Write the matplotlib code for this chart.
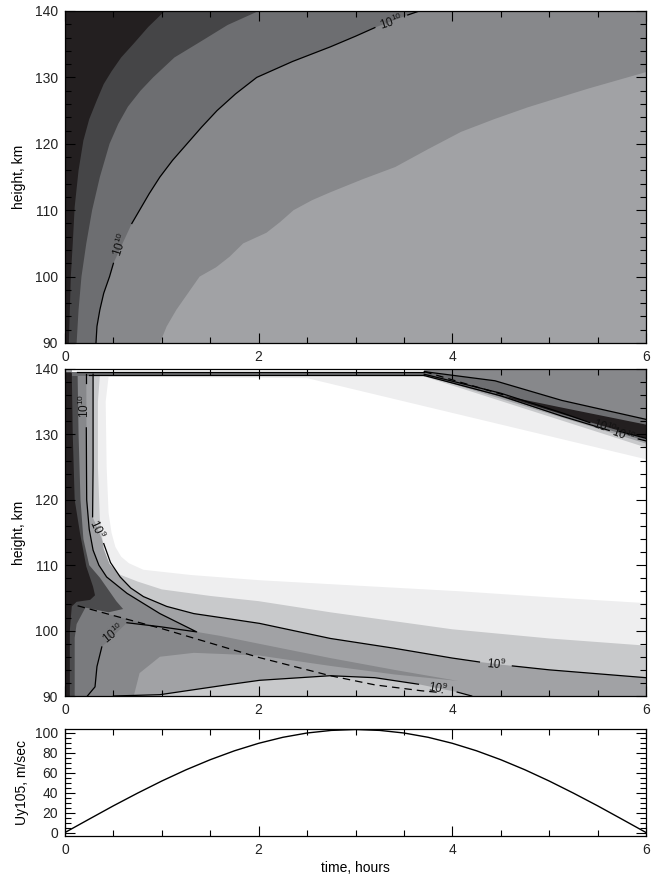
import numpy as np
import matplotlib.pyplot as plt
from matplotlib.ticker import MultipleLocator

plt.rcParams['font.family'] = ['Liberation Sans', 'DejaVu Sans']
plt.rcParams['mathtext.fontset'] = 'custom'
plt.rcParams['mathtext.rm'] = 'Liberation Sans'
plt.rcParams['mathtext.it'] = 'Liberation Sans'

# ---------------- top panel: band boundaries (time h, height km) ----------------
top_black_t = [0.04, 0.05, 0.06, 0.08, 0.10, 0.14, 0.19, 0.25, 0.33, 0.40, 0.48, 0.58, 0.71, 0.86, 1.03]
top_black_h = [90, 95, 100, 105, 110.5, 116, 120.5, 123.7, 126.6, 129, 130.9, 133, 135.1, 137.6, 140]
top_dark_t = [0.12, 0.14, 0.17, 0.22, 0.28, 0.36, 0.46, 0.55, 0.65, 0.78, 0.91, 1.13, 1.39, 1.68, 2.0]
top_dark_h = [90, 95, 100, 105, 110, 115, 120, 123, 125.6, 128, 130, 133, 135.3, 137.9, 140]
# 1e10 contour; label gaps after index 5 and index 20
top_c10_t = [0.32, 0.33, 0.36, 0.40, 0.46, 0.50, 0.69, 0.77, 0.87, 0.98, 1.11, 1.26, 1.41,
             1.57, 1.76, 1.98, 2.35, 2.74, 3.0, 3.2, 3.54, 3.66]
top_c10_h = [90, 92.5, 95, 97.5, 100, 102, 108, 110, 112.5, 115, 117.5, 120, 122.5,
             125, 127.5, 130, 132.4, 134.6, 136.2, 137.5, 139.4, 140]
top_light_t = [0.98, 1.05, 1.15, 1.27, 1.39, 1.56, 1.70, 1.84, 2.08, 2.22, 2.36, 2.55, 2.74,
               3.08, 3.41, 3.75, 4.09, 4.43, 4.78, 5.4, 6.0]
top_light_h = [90, 92.5, 95, 97.5, 100, 101.4, 103, 105, 106.6, 108.2, 110, 111.5, 112.7,
               114.7, 116.5, 119.2, 121.8, 123.7, 125.5, 128.3, 130.8]

# ---------------- middle panel ----------------
white_t = [0.45, 2.5, 6.0, 6.0, 5.0, 4.09, 2.74, 2.01, 1.3, 0.81, 0.66, 0.58, 0.52, 0.48,
           0.45, 0.43, 0.42]
white_h = [138.8, 138.6, 126.2, 104.2, 105.1, 106.0, 107.1, 107.7, 108.5, 109.3, 110.3, 111.3,
           112.8, 115, 118, 125, 135]
vlight_t = [0.36, 3.7, 6.0, 6.0, 5.0, 4.0, 2.74, 2.0, 1.5, 1.0, 0.75, 0.56, 0.46, 0.40, 0.36,
            0.34, 0.34]
vlight_h = [139.0, 138.9, 128.0, 97.7, 98.8, 100.2, 102.8, 104.5, 105.3, 106.3, 107.5, 108.6,
            110.2, 112.5, 117, 125, 135]
light_top_t = [0.29, 3.7, 6.0]
light_top_h = [139.2, 139.1, 128.6]
# upper 1e9 contour, in pieces broken at the labels
c9a_t = [0.29, 0.29, 0.29, 0.285]
c9a_h = [139.2, 130, 125, 117.4]
c9b_t = [0.40, 0.47, 0.57, 0.68, 0.81, 1.05, 1.33, 1.65, 2.01, 2.74, 3.4, 4.0, 4.28]
c9b_h = [113.3, 110.4, 108.2, 106.5, 105.2, 103.7, 102.6, 101.9, 101.1, 98.8, 97.3, 95.8, 95.2]
c9c_t = [4.62, 5.0, 5.5, 6.0]
c9c_h = [94.6, 94.0, 93.4, 92.8]
# lower 1e9 contour
low9a_t = [0.5, 0.98, 1.67, 2.01, 2.74, 3.2, 3.65]
low9a_h = [90, 90.2, 91.7, 92.4, 93.1, 92.8, 91.8]
low9b_t = [4.05, 4.1, 4.2]
low9b_h = [90.6, 90.4, 90.0]
# 1e10 contour (left side and tongue)
c10a_t = [0.22, 0.22]
c10a_h = [139.2, 137.8]
c10b_t = [0.22, 0.222, 0.224, 0.25, 0.29, 0.35, 0.43, 0.64, 0.98, 1.36, 0.98, 0.64]
c10b_h = [131, 125, 120, 115.5, 112.3, 110, 108.2, 105.7, 102.6, 99.8, 100.6, 101.2]
c10c_t = [0.38, 0.33, 0.31, 0.22]
c10c_h = [97.5, 94.5, 91.4, 89.8]
mid_t = [0, 0.71, 0.77, 0.98, 1.33, 2.0, 2.74, 3.4, 4.06, 3.4, 2.74, 2.0, 1.6, 1.36,
         0.98, 0.64, 0.43, 0.35, 0.29, 0.25, 0.224, 0.22, 0]
mid_h = [90, 90, 93.5, 96.0, 96.6, 96.2, 94.6, 93.3, 92.3, 94.0, 95.8, 98.0, 99.2, 99.8,
         102.6, 105.7, 108.2, 110, 112.3, 115.5, 120, 139.2, 139.2]
lowleft_t = [1.36, 0.98, 0.64, 0.38, 0.33, 0.31, 0.22, 0, 0, 0.13, 0.6, 1.0]
lowleft_h = [99.8, 100.6, 101.2, 97.5, 94.5, 91.4, 89.8, 89.8, 104, 103.8, 101.9, 100.4]
dark_t = [0, 0.10, 0.10, 0.12, 0.21, 0.45, 0.60, 0.53, 0.36, 0.25, 0.19, 0.16, 0.14, 0.13, 0]
dark_h = [90, 90, 98.9, 101, 103.5, 102.8, 103.3, 104.5, 108.1, 110, 114, 120, 130, 139.4, 139.4]
black_t = [0, 0.05, 0.05, 0.07, 0.12, 0.26, 0.31, 0.29, 0.22, 0.155, 0.10, 0.08, 0.07, 0]
black_h = [90, 90, 100, 103.7, 104.4, 104.7, 105.4, 106.7, 109.8, 114.9, 120, 130, 139.5, 139.5]
dash_t = [0.13, 0.6, 1.0, 1.5, 2.0, 2.74, 3.2, 3.68, 3.9]
dash_h = [103.8, 101.9, 100.3, 98.1, 95.9, 93.1, 91.7, 90.8, 90.5]
# upper right streak
ur_gray_t = [3.71, 6.0, 6.0, 5.13, 4.44, 3.71]
ur_gray_h = [140, 140, 132.3, 135.2, 138.2, 139.6]
ur_dark_t = [3.71, 4.44, 5.13, 6.0, 6.0, 5.13, 4.44, 3.71]
ur_dark_h = [139.6, 138.2, 135.2, 132.3, 129.0, 132.8, 136.0, 139.0]
streak_t = [4.54, 5.13, 6.0, 6.0, 5.13, 4.6]
streak_h = [135.9, 134.1, 131.5, 129.4, 133.1, 135.5]
ur_line1_t = [3.71, 4.44, 5.13, 6.0]
ur_line1_h = [139.6, 138.2, 135.2, 132.3]
ur_line2a_t = [3.71, 4.5, 5.13, 5.42]
ur_line2a_h = [139.2, 136.3, 133.3, 131.8]
ur_line2b_t = [5.72, 6.0]
ur_line2b_h = [130.5, 129.4]
ur_line3a_t = [3.71, 4.5, 5.13, 5.62]
ur_line3a_h = [139.0, 135.9, 132.8, 130.6]
ur_line3b_t = [5.92, 6.0]
ur_line3b_h = [129.3, 129.0]
ur_dash_t = [3.71, 4.54]
ur_dash_h = [139.6, 136.0]

# ---------------- bottom panel: Uy at 105 km ----------------
uy_t = np.arange(0, 6.01, 0.25)
uy_v = [0, 13.4, 26.7, 39.4, 51.5, 62.7, 72.8, 81.7, 89.2, 95.2, 99.5, 102.1, 103.0,
        102.1, 99.5, 95.2, 89.2, 81.7, 72.8, 62.7, 51.5, 39.4, 26.7, 13.4, 0]

BLACK = '#231f20'
G1 = '#4b4b4d'
G2 = '#6d6e71'
G3 = '#87888b'
G4 = '#a1a2a5'
G5 = '#c8c9cb'
G6 = '#eeeeef'


def style(ax, ymaj, ymin):
    ax.xaxis.set_major_locator(MultipleLocator(2))
    ax.xaxis.set_minor_locator(MultipleLocator(0.5))
    ax.yaxis.set_major_locator(MultipleLocator(ymaj))
    ax.yaxis.set_minor_locator(MultipleLocator(ymin))
    ax.tick_params(which='both', direction='in', top=True, right=True,
                   labelsize=10, width=0.8, pad=5, labelcolor='#222222')
    ax.tick_params(which='major', length=7)
    ax.tick_params(which='minor', length=4)
    for s in ax.spines.values():
        s.set_linewidth(0.9)


def lab(ax, x, y, s, rot):
    ax.text(x, y, s, rotation=rot, fontsize=8.5, ha='center', va='center',
            rotation_mode='anchor', color='#111111')


def line(ax, t, h, **kw):
    ax.plot(t, h, color='k', lw=0.9, **kw)


fig = plt.figure(figsize=(6.58, 8.77), dpi=100)
L, W = 65 / 658, 581 / 658
ax1 = fig.add_axes([L, 534 / 877, W, 332 / 877])
ax2 = fig.add_axes([L, 181 / 877, W, 327 / 877])
ax3 = fig.add_axes([L, 41 / 877, W, 107 / 877])

# ---- top panel ----
ax1.set_facecolor(G4)
ax1.fill(top_light_t + [6, 0, 0], top_light_h + [140, 140, 90], color=G3, lw=0)
ax1.fill(top_c10_t + [0, 0], top_c10_h + [140, 90], color=G2, lw=0)
ax1.fill(top_dark_t + [0, 0], top_dark_h + [140, 90], color='#454547', lw=0)
ax1.fill(top_black_t + [0, 0], top_black_h + [140, 90], color=BLACK, lw=0)
line(ax1, top_c10_t[:6], top_c10_h[:6])
line(ax1, top_c10_t[6:20], top_c10_h[6:20])
line(ax1, top_c10_t[20:], top_c10_h[20:])
lab(ax1, 0.57, 104.8, r'$10^{10}$', 72)
lab(ax1, 3.37, 138.4, r'$10^{10}$', 18)

# ---- middle panel ----
c9_t = c9a_t + c9b_t + c9c_t
c9_h = c9a_h + c9b_h + c9c_h
ax2.set_facecolor(G4)
ax2.fill(light_top_t + c9_t[::-1], light_top_h + c9_h[::-1], color=G5, lw=0)
ax2.fill(vlight_t, vlight_h, color=G6, lw=0)
ax2.fill(white_t, white_h, color='white', lw=0)
ax2.fill(low9a_t + low9b_t, low9a_h + low9b_h, color=G5, lw=0)
ax2.fill(mid_t, mid_h, color=G3, lw=0)
ax2.fill(lowleft_t, lowleft_h, color='#7a7b7e', lw=0)
ax2.fill(dark_t, dark_h, color=G1, lw=0)
ax2.fill(black_t, black_h, color=BLACK, lw=0)
ax2.fill(ur_gray_t, ur_gray_h, color=G3, lw=0)
ax2.fill(ur_dark_t, ur_dark_h, color=G2, lw=0)
ax2.fill(streak_t, streak_h, color=BLACK, lw=0)
# crowded contours along the top edge
ax2.fill([0.07, 3.71, 3.71, 0.07], [139.0, 139.0, 139.6, 139.6], color=G2, lw=0)
ax2.fill([0.07, 3.71, 3.71, 0.07], [139.6, 139.6, 140, 140], color='white', lw=0)
line(ax2, [0.12, 3.71], [139.55, 139.55])
line(ax2, [0.25, 3.71], [139.1, 139.1])

for t, h in [(c9a_t, c9a_h), (c9b_t, c9b_h), (c9c_t, c9c_h), (low9a_t, low9a_h),
             (low9b_t, low9b_h), (c10a_t, c10a_h), (c10b_t, c10b_h), (c10c_t, c10c_h),
             (ur_line1_t, ur_line1_h), (ur_line2a_t, ur_line2a_h), (ur_line2b_t, ur_line2b_h),
             (ur_line3a_t, ur_line3a_h), (ur_line3b_t, ur_line3b_h)]:
    line(ax2, t, h)
line(ax2, dash_t, dash_h, dashes=(6, 4))
line(ax2, ur_dash_t, ur_dash_h, dashes=(6, 4))

lab(ax2, 0.205, 134.4, r'$10^{10}$', 90)
lab(ax2, 0.335, 115.6, r'$10^{9}$', -65)
lab(ax2, 0.50, 99.6, r'$10^{10}$', 38)
lab(ax2, 4.45, 94.9, r'$10^{9}$', -5)
lab(ax2, 3.85, 91.25, r'$10^{9}$', -10)
lab(ax2, 5.57, 131.1, r'$10^{10}$', -20)
lab(ax2, 5.77, 129.9, r'$10^{10}$', -20)

# ---- bottom panel ----
ax3.plot(uy_t, uy_v, color='k', lw=1.0)

for ax in (ax1, ax2):
    ax.set_xlim(0, 6)
    ax.set_ylim(90, 140)
    style(ax, 10, 2)
    ax.set_ylabel('height, km', fontsize=10, labelpad=6)
ax3.set_xlim(0, 6)
ax3.set_ylim(-3.5, 103.5)
style(ax3, 20, 5)
ax3.set_ylabel('Uy105, m/sec', fontsize=10, labelpad=4)
ax3.set_xlabel('time, hours', fontsize=10, labelpad=3)

fig.savefig('out.png', dpi=100)
